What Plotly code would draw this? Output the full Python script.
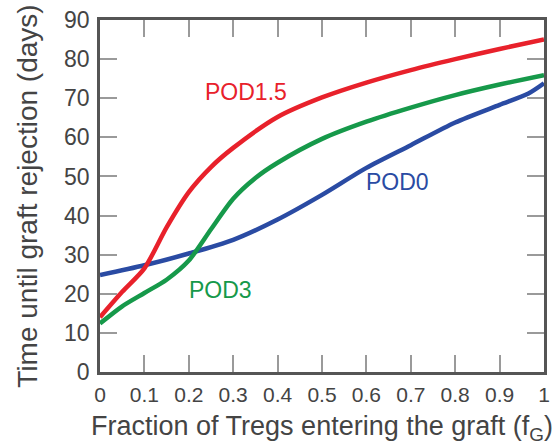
import plotly.graph_objects as go

# Data
pod15_x = [0, 0.05, 0.1, 0.15, 0.2, 0.25, 0.3, 0.4, 0.5, 0.6, 0.7, 0.8, 0.9, 1.0]
pod15_y = [14, 20.5, 26.5, 37, 46, 52.4, 57.3, 65.2, 70.2, 74, 77.2, 80, 82.6, 85]

pod3_x = [0, 0.05, 0.1, 0.15, 0.2, 0.25, 0.3, 0.35, 0.4, 0.5, 0.6, 0.7, 0.8, 0.9, 1.0]
pod3_y = [12.4, 16.8, 20.2, 23.6, 28.5, 36.5, 44.3, 49.6, 53.5, 59.6, 64, 67.6, 70.8, 73.5, 75.9]

pod0_x = [0, 0.1, 0.2, 0.3, 0.4, 0.5, 0.6, 0.7, 0.8, 0.9, 0.965, 1.0]
pod0_y = [24.8, 27.3, 30.3, 33.8, 39, 45.3, 52.2, 58, 63.8, 68.3, 71.2, 73.8]

x_ticks = [0, 0.1, 0.2, 0.3, 0.4, 0.5, 0.6, 0.7, 0.8, 0.9, 1]
x_tick_labels = ["0", "0.1", "0.2", "0.3", "0.4", "0.5", "0.6", "0.7", "0.8", "0.9", "1"]
y_ticks = [0, 10, 20, 30, 40, 50, 60, 70, 80, 90]

labels = ["POD1.5", "POD3", "POD0"]
label_x = [0.329, 0.272, 0.669]
label_y = [71.6, 21, 48.6]

RED = "#e8212b"
GREEN = "#16994a"
BLUE = "#2a4ba3"
colors = [RED, GREEN, BLUE]
FONT = "Liberation Sans, Arial, sans-serif"

fig = go.Figure()
for xs, ys, c in [(pod0_x, pod0_y, BLUE), (pod3_x, pod3_y, GREEN), (pod15_x, pod15_y, RED)]:
    fig.add_trace(go.Scatter(x=xs, y=ys, mode="lines",
                             line=dict(color=c, width=4.5, shape="spline", smoothing=0.75),
                             showlegend=False, hoverinfo="skip"))

for t, lx, ly, c in zip(labels, label_x, label_y, colors):
    fig.add_annotation(x=lx, y=ly, text=t, showarrow=False,
                       font=dict(family=FONT, size=23, color=c))

axis_common = dict(
    showline=True, linecolor="#555555", linewidth=2.5, mirror="allticks",
    ticks="inside", ticklen=17, tickcolor="#9a9a9a", tickwidth=1.5,
    showgrid=False, zeroline=False,
)

fig.update_xaxes(range=[0, 1], tickvals=x_ticks, ticktext=x_tick_labels,
                 tickfont=dict(family=FONT, size=21, color="#444444"),
                 title=dict(text="Fraction of Tregs entering the graft (f<sub>G</sub>)",
                            font=dict(family=FONT, size=27, color="#444444"),
                            standoff=12),
                 ticklabelstandoff=2,
                 **axis_common)
fig.update_yaxes(range=[0, 90], tickvals=y_ticks,
                 tickfont=dict(family=FONT, size=23, color="#444444"),
                 title=dict(text="Time until graft rejection (days)",
                            font=dict(family=FONT, size=28, color="#444444"),
                            standoff=19),
                 ticklabelstandoff=3,
                 **axis_common)

fig.update_layout(width=556, height=447,
                  margin=dict(l=100, r=6, t=20, b=75),
                  paper_bgcolor="white", plot_bgcolor="white")

fig.write_html("out.html")
